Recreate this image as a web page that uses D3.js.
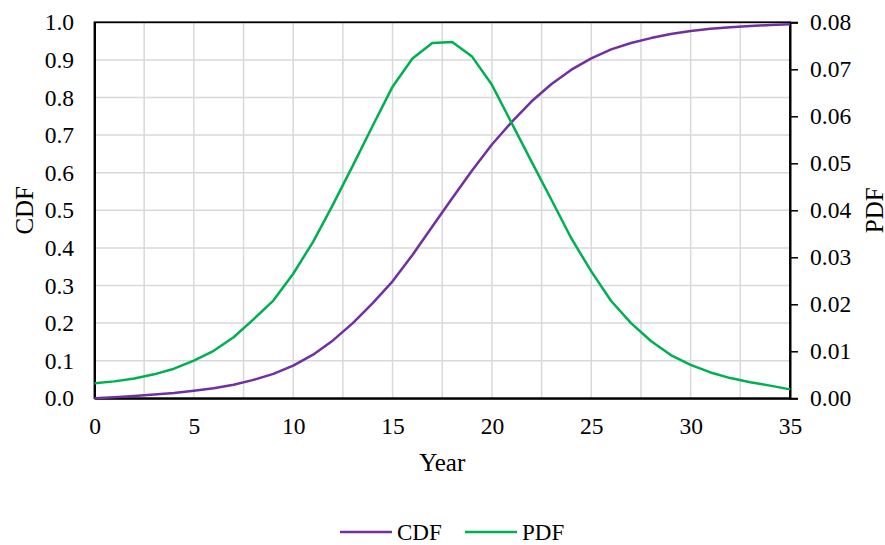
<!DOCTYPE html>
<html><head><meta charset="utf-8">
<script src="https://cdn.jsdelivr.net/npm/d3@7"></script>
<style>body{margin:0;background:#fff;} svg text{font-family:"Liberation Serif","Times New Roman",serif !important;fill:#000;}</style>
</head><body>
<svg id="c" width="885" height="545"></svg>
<script>
const years = d3.range(0, 36);
const cdfValues = [0.000,0.003,0.006,0.010,0.014,0.020,0.027,0.036,0.049,0.065,0.087,0.116,0.154,0.200,0.253,0.311,0.381,0.457,0.532,0.606,0.675,0.735,0.790,0.836,0.874,0.904,0.928,0.945,0.958,0.969,0.977,0.983,0.987,0.990,0.993,0.995];
const pdfValues = [0.0032,0.0036,0.0042,0.0051,0.0063,0.0080,0.0101,0.0130,0.0168,0.0208,0.0265,0.0333,0.0412,0.0495,0.0580,0.0663,0.0723,0.0756,0.0758,0.0727,0.0667,0.0585,0.0503,0.0422,0.0340,0.0270,0.0207,0.0160,0.0122,0.0092,0.0071,0.0055,0.0043,0.0034,0.0027,0.0019];
const xTicks = [0,5,10,15,20,25,30,35];
const xGrid = d3.range(0, 35.01, 2.5);
const leftTicks = d3.range(0, 1.001, 0.1);
const rightTicks = d3.range(0, 0.0801, 0.01);
const seriesNames = ["CDF","PDF"];
const colors = ["#7030A0","#00B050"];

const svg = d3.select("#c");
const L = 94.5, R = 790, T = 22.3, B = 398.3;
const x = d3.scaleLinear().domain([0,35]).range([L,R]);
const yL = d3.scaleLinear().domain([0,1]).range([B,T]);
const yR = d3.scaleLinear().domain([0,0.08]).range([B,T]);
const serif = '"Liberation Serif","Times New Roman",serif';

// grid
svg.append("g").selectAll("line").data(xGrid).join("line")
  .attr("x1",d=>x(d)).attr("x2",d=>x(d)).attr("y1",T).attr("y2",B)
  .attr("stroke","#d9d9d9").attr("stroke-width",1.5);
svg.append("g").selectAll("line").data(leftTicks).join("line")
  .attr("x1",L).attr("x2",R).attr("y1",d=>yL(d)).attr("y2",d=>yL(d))
  .attr("stroke","#d9d9d9").attr("stroke-width",1.5);

// axes
const fs = 23.5;
const gL = svg.append("g").attr("transform",`translate(${L},0)`)
  .call(d3.axisLeft(yL).tickValues(leftTicks).tickFormat(d3.format(".1f")).tickSize(0).tickPadding(20.5));
const gR = svg.append("g").attr("transform",`translate(${R},0)`)
  .call(d3.axisRight(yR).tickValues(rightTicks).tickFormat(d3.format(".2f")).tickSize(8).tickPadding(12));
const gB = svg.append("g").attr("transform",`translate(0,${B})`)
  .call(d3.axisBottom(x).tickValues(xTicks).tickFormat(d3.format("d")).tickSize(0).tickPadding(19));
[gL,gR,gB].forEach(g=>{
  g.attr("font-family",serif).attr("font-size",fs);
  g.selectAll("text").attr("fill","#000").style("font-size",fs+"px");
  g.selectAll("line").attr("stroke","#000").attr("stroke-width",1.5);
  g.select(".domain").attr("stroke","#000").attr("stroke-width",2);
});
svg.append("rect").attr("x",L).attr("y",T).attr("width",R-L).attr("height",B-T)
  .attr("fill","none").attr("stroke","#000").attr("stroke-width",1.8);

// lines
const lineL = d3.line().x((d,i)=>x(years[i])).y(d=>yL(d));
const lineR = d3.line().x((d,i)=>x(years[i])).y(d=>yR(d));
svg.append("path").datum(cdfValues).attr("d",lineL).attr("fill","none")
  .attr("stroke",colors[0]).attr("stroke-width",2.5).attr("stroke-linejoin","round");
svg.append("path").datum(pdfValues).attr("d",lineR).attr("fill","none")
  .attr("stroke",colors[1]).attr("stroke-width",2.5).attr("stroke-linejoin","round");

// titles
svg.append("text").attr("x",(L+R)/2).attr("y",471).attr("text-anchor","middle").style("font-size","25px").text("Year");
svg.append("text").attr("transform",`translate(33,${(T+B)/2}) rotate(-90)`).attr("text-anchor","middle").style("font-size","25px").text("CDF");
svg.append("text").attr("transform",`translate(883,${(T+B)/2}) rotate(-90)`).attr("text-anchor","middle").style("font-size","25px").text("PDF");

// legend
const legX = [340, 465];
const leg = svg.append("g").selectAll("g").data(seriesNames).join("g")
  .attr("transform",(d,i)=>`translate(${legX[i]},532)`);
leg.append("line").attr("x1",0).attr("x2",52).attr("y1",0).attr("y2",0)
  .attr("stroke",(d,i)=>colors[i]).attr("stroke-width",2.5);
leg.append("text").attr("x",57).attr("y",7.5).style("font-size","23px").text(d=>d);
</script>
</body></html>
